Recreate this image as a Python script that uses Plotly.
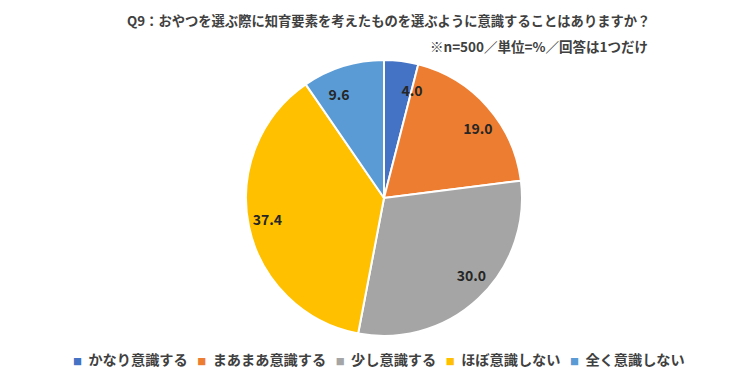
import plotly.graph_objects as go

categories = ["かなり意識する", "まあまあ意識する", "少し意識する", "ほぼ意識しない", "全く意識しない"]
values = [4.0, 19.0, 30.0, 37.4, 9.6]
colors = ["#4472C4", "#ED7D31", "#A5A5A5", "#FFC000", "#5B9BD5"]
title_text = "Q9：おやつを選ぶ際に知育要素を考えたものを選ぶように意識することはありますか？"
note_text = "※n=500／単位=%／回答は1つだけ"

FONT = "Noto Sans CJK JP"
W, H = 742, 375  # page body has an 8px margin in the 750x383 window


def px_x(x):
    return x / W


def px_y(y):
    return 1 - y / H


cx, cy, R = 376, 190, 138
r_in = 99

labels_txt = [f"{v:.1f}" for v in values]

# main pie (no text)
pie_main = go.Pie(
    labels=categories, values=values, sort=False, direction="clockwise", rotation=0,
    marker=dict(colors=colors, line=dict(color="white", width=2)),
    textinfo="none",
    domain=dict(x=[px_x(cx - R), px_x(cx + R)], y=[px_y(cy + R), px_y(cy - R)]),
    hoverinfo="label+value", showlegend=False,
)

# transparent inner pie only used to place the value labels further out
pie_lab = go.Pie(
    labels=categories, values=values, sort=False, direction="clockwise", rotation=0,
    marker=dict(colors=["rgba(0,0,0,0)"] * len(values), line=dict(width=0)),
    text=labels_txt, textinfo="text", textposition="outside",
    outsidetextfont=dict(family=FONT, size=14, color="#262626", weight="bold"),
    domain=dict(x=[px_x(cx - r_in), px_x(cx + r_in)], y=[px_y(cy + r_in), px_y(cy - r_in)]),
    hoverinfo="skip", showlegend=False,
)

fig = go.Figure([pie_main, pie_lab])

legend_html = "\u00a0\u00a0\u00a0".join(
    f"<span style='color:{c};font-size:9px'>■</span>\u00a0\u00a0<b>{cat}</b>" for c, cat in zip(colors, categories)
)

fig.update_layout(
    width=W, height=H,
    margin=dict(l=0, r=0, t=0, b=0),
    paper_bgcolor="white",
    plot_bgcolor="white",
    font=dict(family=FONT, color="#404040"),
    showlegend=False,
    annotations=[
        dict(text=f"<b>{title_text}</b>", x=px_x(380), y=px_y(13), xref="paper", yref="paper",
             xanchor="center", yanchor="middle", showarrow=False,
             font=dict(family=FONT, size=13.3, color="#404040")),
        dict(text=f"<b>{note_text}</b>", x=px_x(642), y=px_y(38), xref="paper", yref="paper",
             xanchor="right", yanchor="middle", showarrow=False,
             font=dict(family=FONT, size=13.5, color="#404040")),
        dict(text=legend_html, x=px_x(371), y=px_y(351), xref="paper", yref="paper",
             xanchor="center", yanchor="middle", showarrow=False,
             font=dict(family=FONT, size=14.2, color="#404040")),
    ],
)

fig.write_html("out.html")
